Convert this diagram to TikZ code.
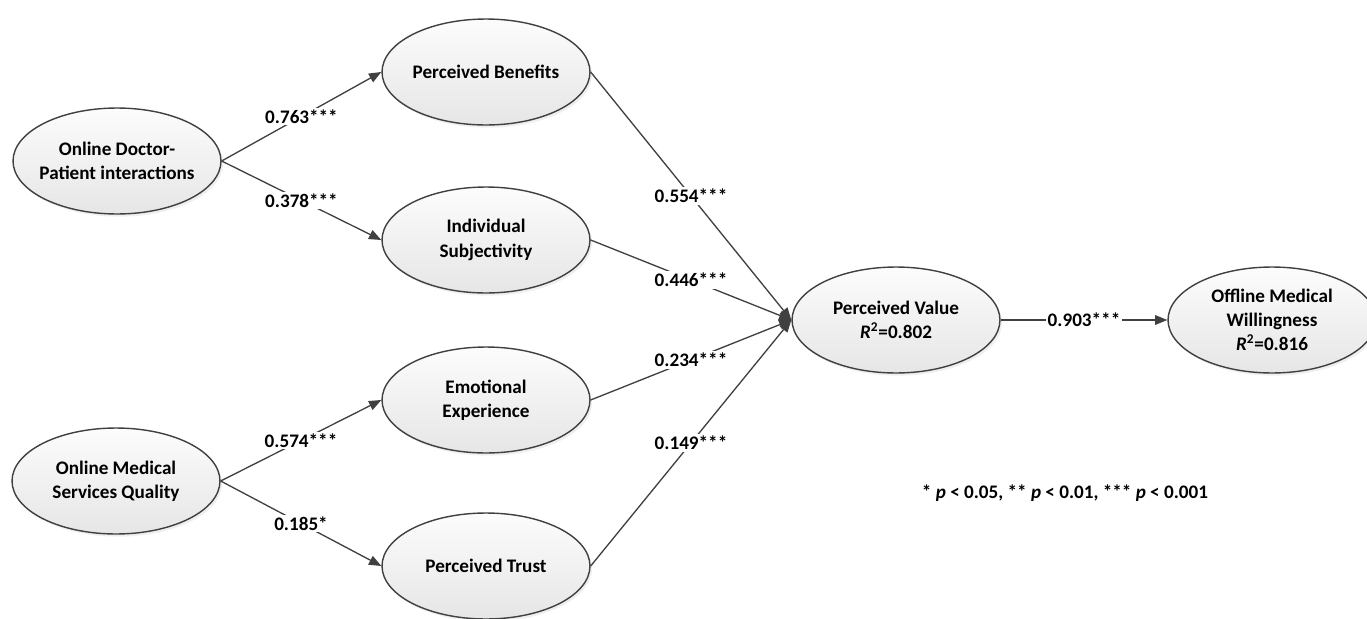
\documentclass[tikz,border=0pt]{standalone}
\usepackage{fontspec}
\setmainfont{Carlito}
\usepackage{tikz}
\usetikzlibrary{shapes.geometric,arrows.meta,shadows}
\definecolor{edge}{HTML}{404040}
\definecolor{fillhi}{HTML}{FCFCFC}
\definecolor{filllo}{HTML}{E6E6E6}
\tikzset{
  latent/.style={ellipse, draw=edge, line width=0.8pt, top color=fillhi, bottom color=filllo,
    minimum width=4.16cm, minimum height=2.12cm, inner sep=0pt, inner xsep=-6pt,
    align=center, font=\fontsize{10.9}{13.8}\selectfont\bfseries,
    drop shadow={opacity=0.12, shadow xshift=1.2pt, shadow yshift=-1.5pt}},
  link/.style={draw=edge, line width=0.75pt, -{Triangle[length=7pt,width=5.5pt]}},
  coef/.style={fill=white, inner sep=1pt, font=\fontsize{10.9}{13}\selectfont\bfseries},
}
\newcommand{\rsq}[1]{\textit{R}\textsuperscript{2}=#1}

\begin{document}
\begin{tikzpicture}[x=0.02cm, y=-0.02cm]
  \useasboundingbox[fill=white] (0,0) rectangle (1367,619);
  \clip (0,0) rectangle (1367,619);

  % antecedents
  \node[latent] (odpi) at (117,161) {Online Doctor-\\Patient interactions};
  \node[latent] (msq) at (116,481) {Online Medical\\Services Quality};

  % mediators
  \node[latent] (pb) at (486,72) {Perceived Benefits};
  \node[latent] (is) at (486,240) {Individual\\Subjectivity};
  \node[latent] (ee) at (486,400) {Emotional\\Experience};
  \node[latent] (pt) at (486,566) {Perceived Trust};

  % outcomes
  \node[latent] (pv) at (896,320) {Perceived Value\\\rsq{0.802}};
  \node[latent] (omw) at (1272,320) {Offline Medical\\Willingness\\\rsq{0.816}};

  \draw[link] (odpi.east) -- node[coef] {0.763***} (pb.west);
  \draw[link] (odpi.east) -- node[coef] {0.378***} (is.west);
  \draw[link] (msq.east) -- node[coef] {0.574***} (ee.west);
  \draw[link] (msq.east) -- node[coef] {0.185*} (pt.west);

  \draw[link] (pb.east) -- node[coef] {0.554***} (pv.west);
  \draw[link] (is.east) -- node[coef] {0.446***} (pv.west);
  \draw[link] (ee.east) -- node[coef] {0.234***} (pv.west);
  \draw[link] (pt.east) -- node[coef] {0.149***} (pv.west);

  \draw[link] (pv.east) -- node[coef] {0.903***} (omw.west);

  \node[font=\fontsize{10.9}{13}\selectfont\bfseries] (note) at (1065,493)
    {* \textit{p} < 0.05, ** \textit{p} < 0.01, *** \textit{p} < 0.001};
\end{tikzpicture}
\end{document}
